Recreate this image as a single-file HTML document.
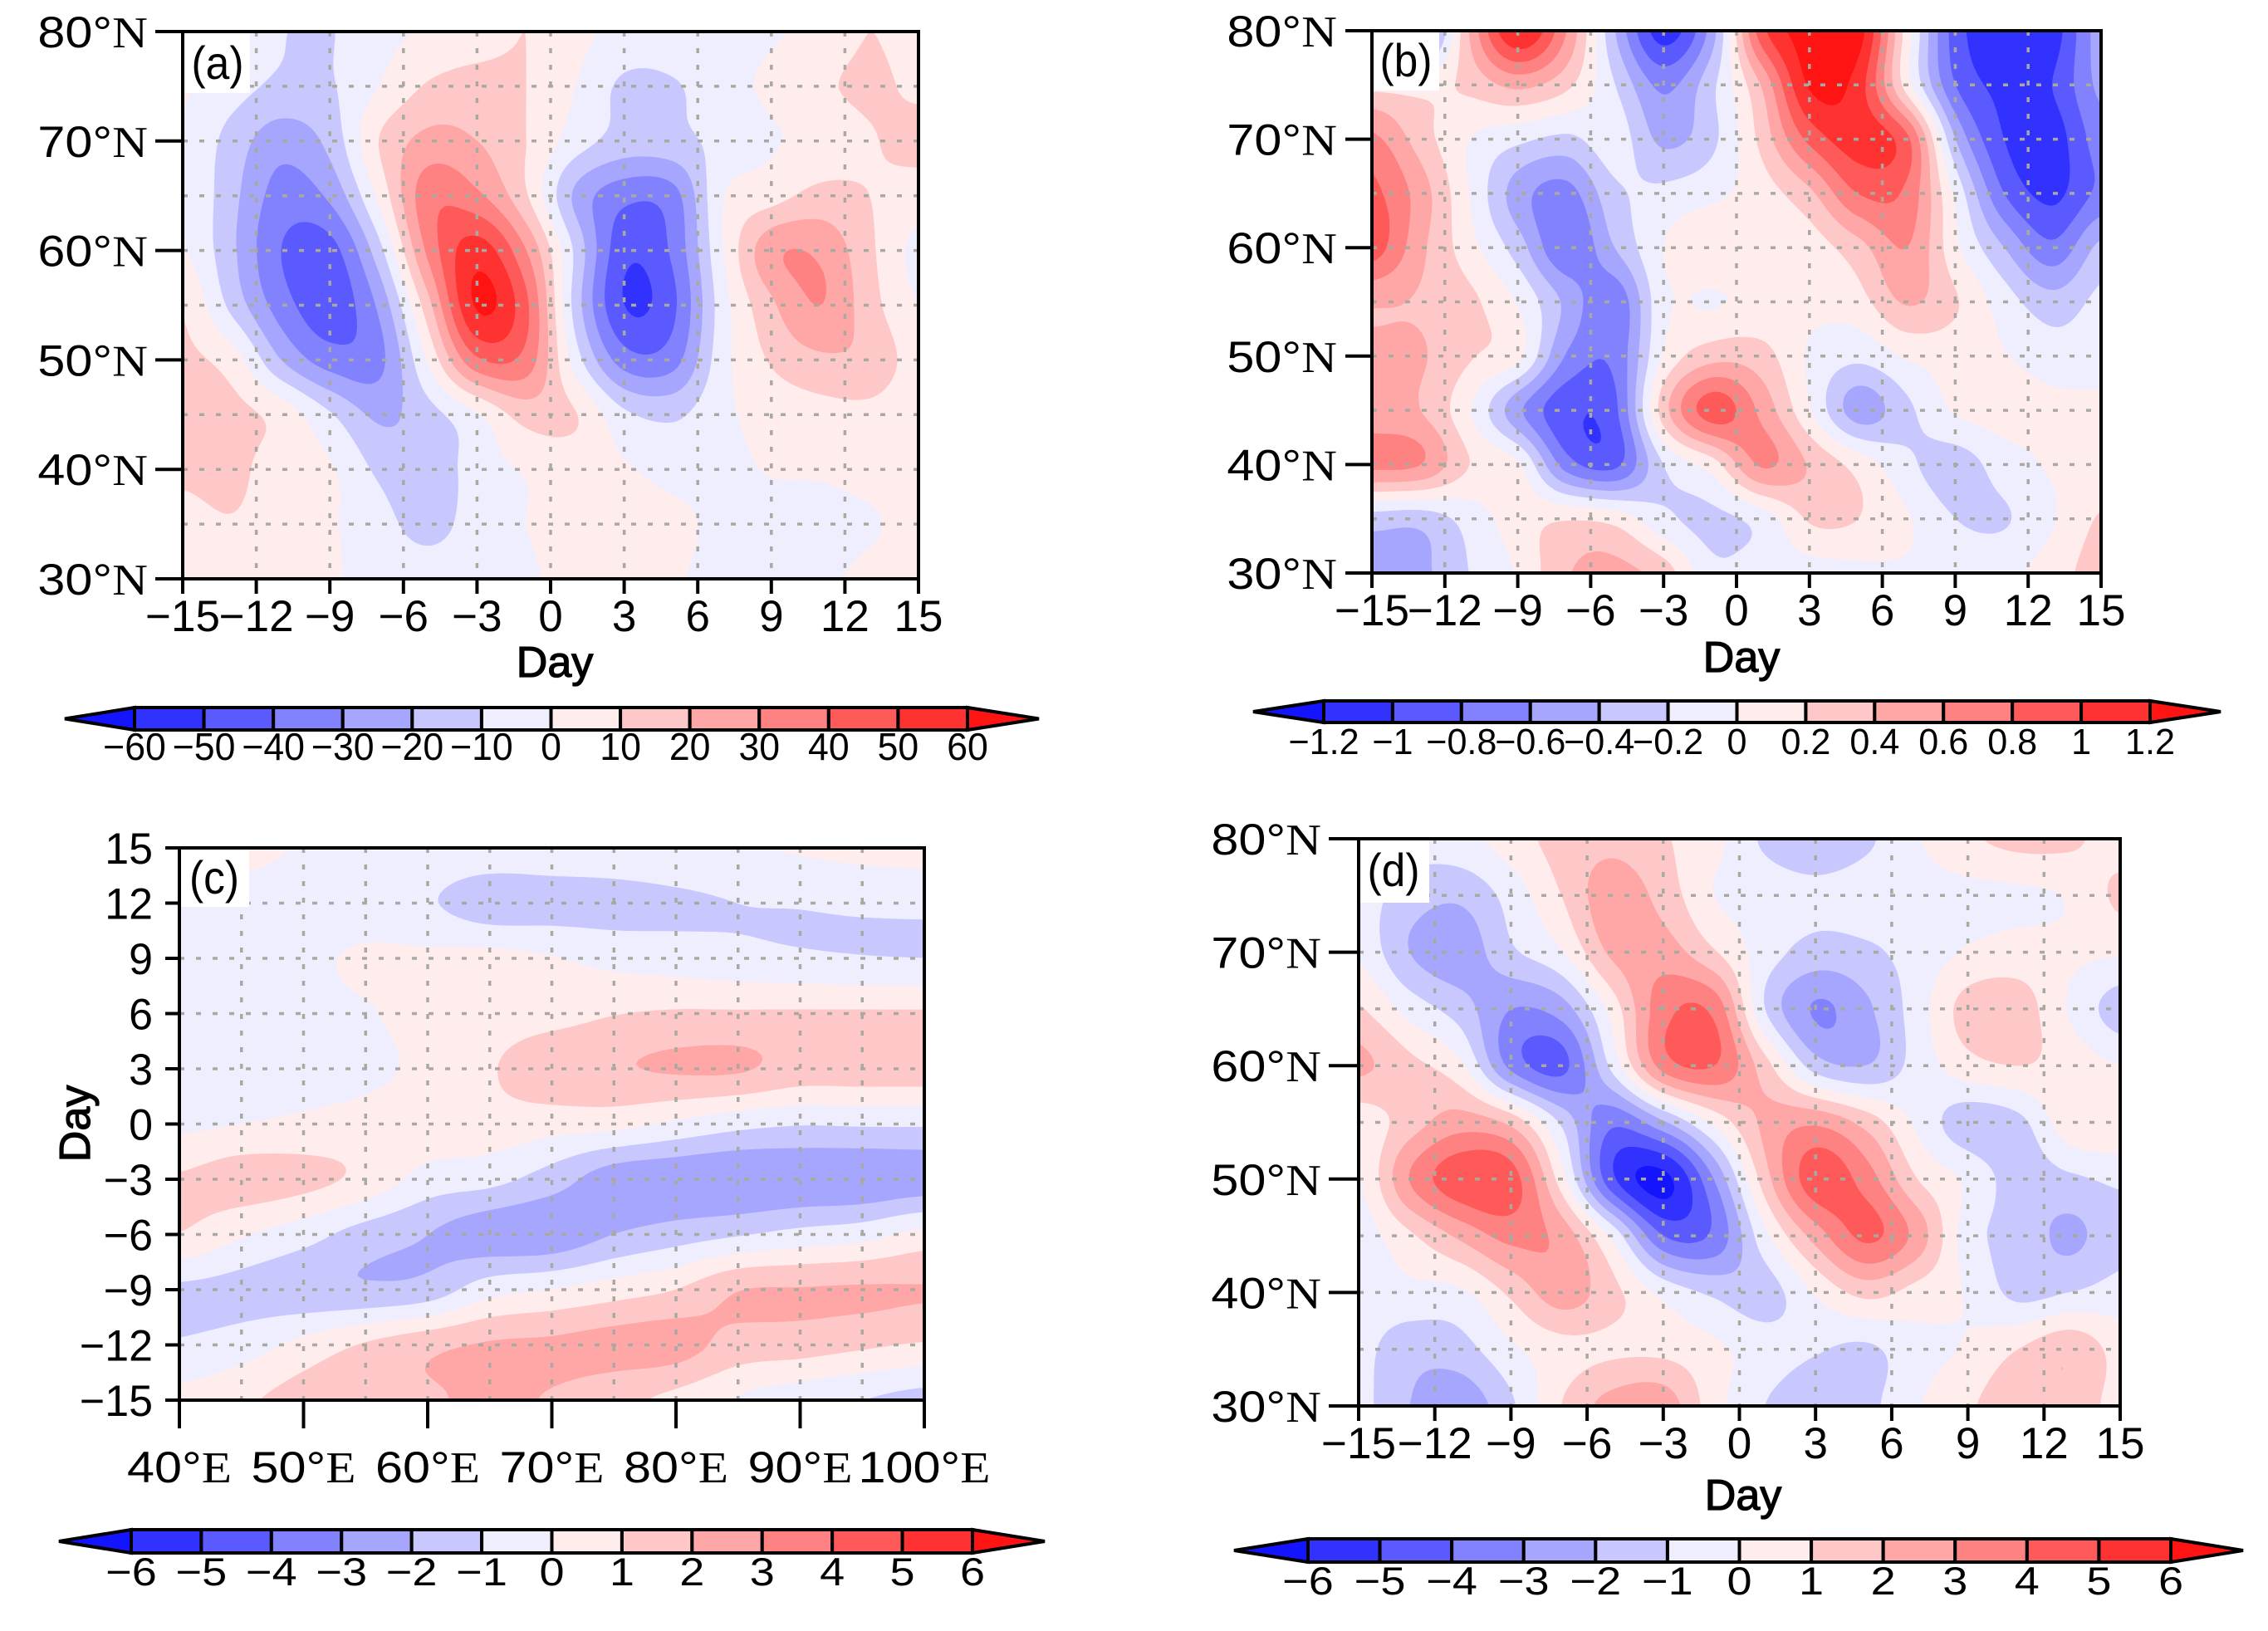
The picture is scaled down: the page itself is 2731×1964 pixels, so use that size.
<!DOCTYPE html>
<html lang="en">
<head>
<meta charset="utf-8">
<title>Composite contour panels</title>
<style>
html,body{margin:0;padding:0;background:#fff;}
svg{display:block;}
text{font-family:"Liberation Sans",sans-serif;fill:#000;}
.ser{font-family:"Liberation Serif",serif;}
</style>
</head>
<body>
<svg xmlns="http://www.w3.org/2000/svg" width="2731" height="1964" viewBox="0 0 2731 1964">
  <rect width="2731" height="1964" fill="#fff"/>

  <g>
    <g id="fills-a"></g>
    <g id="grid-a"></g>
    <rect x="220" y="38" width="81" height="74" fill="#fff"/>
    <text transform="translate(262,95) scale(0.92,1)" text-anchor="middle" font-size="56">(a)</text>
    <g id="axes-a"></g>
    <text transform="translate(668,815) scale(1.0,1)" text-anchor="middle" font-size="52" stroke="#000" stroke-width="1.3">Day</text>
    <g id="bar-a"></g>
  </g>

  <g>
    <g id="fills-b"></g>
    <g id="grid-b"></g>
    <rect x="1652" y="37" width="81" height="72" fill="#fff"/>
    <text transform="translate(1693,92) scale(0.92,1)" text-anchor="middle" font-size="56">(b)</text>
    <g id="axes-b"></g>
    <text transform="translate(2097,809) scale(1.0,1)" text-anchor="middle" font-size="52" stroke="#000" stroke-width="1.3">Day</text>
    <g id="bar-b"></g>
  </g>

  <g>
    <g id="fills-c"></g>
    <g id="grid-c"></g>
    <rect x="216" y="1021" width="84" height="71" fill="#fff"/>
    <text transform="translate(258,1076) scale(0.92,1)" text-anchor="middle" font-size="56">(c)</text>
    <g id="axes-c"></g>
    <text transform="translate(108,1353) rotate(-90) scale(1.0,1)" text-anchor="middle" font-size="52" stroke="#000" stroke-width="1.3">Day</text>
    <g id="bar-c"></g>
  </g>

  <g>
    <g id="fills-d"></g>
    <g id="grid-d"></g>
    <rect x="1636" y="1010" width="85" height="77" fill="#fff"/>
    <text transform="translate(1678,1067) scale(0.92,1)" text-anchor="middle" font-size="56">(d)</text>
    <g id="axes-d"></g>
    <text transform="translate(2099,1818) scale(1.0,1)" text-anchor="middle" font-size="52" stroke="#000" stroke-width="1.3">Day</text>
    <g id="bar-d"></g>
  </g>
</svg>

<script>
// ---- Shared coordinates of the data grids ----
const gridDays = [-15,-13,-11,-9,-7,-5,-3,-1,1,3,5,7,9,11,13,15];
const gridLats = [80,75,70,65,60,55,50,45,40,35,30];
const gridDaysC = [15,12,9,6,3,0,-3,-6,-9,-12,-15];
const gridLonsC = [40,45,50,55,60,65,70,75,80,85,90,95,100];

// ---- Tick values ----
const dayTicks = [-15,-12,-9,-6,-3,0,3,6,9,12,15];
const latTicks = [80,70,60,50,40,30];
const lonTicks = [40,50,60,70,80,90,100];
const latGrid = [75,70,65,60,55,50,45,40,35];
const lonGrid = [45,50,55,60,65,70,75,80,85,90,95];

// ---- Contour levels and colorbar labels ----
const levelsA = [-60,-50,-40,-30,-20,-10,0,10,20,30,40,50,60];
const levelsB = [-1.2,-1,-0.8,-0.6,-0.4,-0.2,0,0.2,0.4,0.6,0.8,1,1.2];
const levelsCD = [-6,-5,-4,-3,-2,-1,0,1,2,3,4,5,6];

// ---- Panel (a): rows are latitudes (80N to 30N), columns are days ----
const valuesA = [
 [2,-3,-9.5,-10.5,-3,1,5,10,3,-3,-4,-3,-1,3,10,5],
 [1,-6,-12,-11,0,11,14,10,0,-12,-11,-4,2,8,12,8],
 [-1,-14,-26,-17,10,23,20,10,-5,-14,-13,-7,-1,3,9,13],
 [0,-17,-34,-28,2,36,32,11,-22,-37,-34,-1,6,13,10,5],
 [1,-18,-40,-44,-14,32,55,30,-12,-47,-38,-1,27,28,12,-3],
 [9,-13,-35,-46,-28,16,61,42,-14,-50,-42,-5,18,30,14,0],
 [12,5,-20,-35,-33,1,38,36,-5,-35,-34,-4,11,18,17,5],
 [13,13,6,-9,-22,-14,-1,14,10.5,-8,-12,-2,3,6,7,3],
 [12,13,4,1,-12,-17,-5,1,4,1,-3,-2,0.5,1,3,3],
 [6,9,4,1,-6,-14,-5,0,3,3,2,-2,-3,-3,-1,3],
 [3,3,3,1,-3,-4,-3,-1,2,2,1,-3,-3,-2,2,3]
];

// ---- Panel (b) ----
const valuesB = [
 [-1,-0.8,0.4,1.2,0.6,-0.4,-1.1,-0.5,0.9,1.3,1.3,0.1,-0.9,-1.1,-1.1,-0.5],
 [0.1,0.1,0.25,0.45,0.25,-0.2,-0.65,-0.25,0.4,1.22,1.1,0.1,-0.8,-1.05,-1,-0.55],
 [0.65,0.3,0,-0.15,-0.25,-0.1,-0.45,-0.25,0.25,0.85,1.1,0.85,-0.4,-1,-1.1,-0.7],
 [0.85,0.5,0,-0.5,-0.68,-0.25,-0.15,-0.05,0.1,0.35,0.8,0.75,-0.05,-0.8,-1.05,-0.75],
 [0.9,0.45,0.08,-0.3,-0.78,-0.4,0,0.18,0.1,0.1,0.32,0.6,0.05,-0.4,-0.75,-0.35],
 [0.42,0.38,0.25,-0.02,-0.45,-0.75,-0.05,-0.02,0.05,0.05,0.12,0.42,0.22,-0.1,-0.32,-0.15],
 [0.45,0.42,0.22,0.05,-0.62,-0.75,0.02,0.32,0.28,-0.02,-0.15,0.02,0.08,0.01,-0.1,-0.1],
 [0.48,0.4,0.02,-0.55,-0.95,-0.85,0.3,0.9,0.55,0.02,-0.5,-0.25,0.02,0.08,0.05,0.05],
 [0.65,0.6,0.2,0.02,-0.7,-0.85,-0.2,0.1,0.62,0.38,0.12,-0.15,-0.3,-0.1,0.02,0.05],
 [-0.3,-0.32,-0.12,0.1,0.18,0.12,-0.15,-0.25,-0.12,0.22,0.2,0.02,-0.2,-0.22,-0.02,0.22],
 [-0.5,-0.45,-0.2,0.02,0.38,0.46,0.3,-0.15,-0.1,-0.08,-0.05,-0.02,-0.05,-0.05,0.1,0.3]
];

// ---- Panel (c): rows are days (15 to -15), columns are longitudes ----
const valuesC = [
 [-0.5,0.3,-0.1,-0.1,-0.3,-0.3,-0.3,-0.3,-0.2,-0.1,0.1,0.3,0.4],
 [-0.5,-0.5,-0.6,-0.7,-0.9,-1.6,-1.5,-1.4,-1.2,-1,-0.95,-0.85,-0.8],
 [-0.6,-0.6,-0.3,0.2,0.2,0.3,0.05,-0.3,-0.5,-0.7,-0.85,-0.95,-1],
 [-0.6,-0.7,-0.4,-0.1,0.4,0.5,0.6,0.95,1.1,1.1,1.1,1.1,1.1],
 [-0.5,-0.6,-0.5,-0.3,0.3,0.9,1.7,1.9,2.1,2.1,1.6,1.6,1.6],
 [-0.2,0,0.2,0.4,0.6,0.6,0.4,0.3,-0.2,-0.7,-0.95,-0.9,-0.9],
 [1.1,1.5,1.3,0.7,-0.4,-0.7,-1.5,-2.6,-2.8,-2.9,-2.8,-2.8,-2.6],
 [0.95,0.1,-0.6,-1.45,-2,-2.6,-2.7,-2,-1.5,-1.1,-0.7,-0.4,0.3],
 [-1.2,-1.4,-1.7,-1.85,-1.6,-0.4,0,0.5,1,1.95,2.05,2.1,2.05],
 [-0.9,-0.5,0.3,1.1,1.7,2.1,2.2,2.4,2.4,1.6,1.45,1.15,0.9],
 [0.3,0.8,1.5,1.95,1.9,2.2,1.9,1.3,0.7,-0.1,-0.6,-1,-1.4]
];

// ---- Panel (d) ----
const valuesD = [
 [0,-0.5,-0.3,0.5,1.4,1.7,1.1,0.3,-1.2,-1.8,-1.2,-0.1,0.8,1.3,1.2,0.5],
 [-0.5,-1.5,-1.8,-0.6,1,2.6,1.6,0,-0.4,-0.7,-0.5,-0.4,-0.3,-0.2,0.1,1.2],
 [-0.2,-2,-2.6,-1.2,-0.1,2.2,2.5,1.1,-0.5,-1.4,-1.2,-0.6,0.1,0.4,0.2,0.1],
 [1.1,-0.4,-1.5,-3,-2.5,0.4,3.6,3.7,-1,-3.1,-2.2,-0.5,1.4,1.5,-0.1,-1.5],
 [2.2,1.3,0.2,-3.3,-4.3,-0.7,3.4,4,1.4,-1.5,-2,-0.6,0.6,1,0.6,0],
 [0.3,1.5,2.5,1.7,-1.2,-3.8,-2.2,0.2,2.2,2.8,1.6,-0.2,-1.6,-1.3,0.6,0.9],
 [-0.1,3,4.7,4.5,0.4,-4.8,-6.3,-3,1.5,4.6,3.5,1,-0.2,-1.5,-1.2,-0.8],
 [-0.5,0.8,2.2,3.3,2.6,-0.3,-4,-3.8,-0.3,2.4,4.2,2.6,-0.5,-1.4,-2.2,-1.4],
 [-0.5,-0.3,-0.2,1.2,2.5,1.3,-0.3,-1.2,-1.5,0.1,1.3,0.6,-0.1,-1.3,-1,-0.6],
 [-0.7,-1.6,-1.4,-0.2,0.6,0.8,0.7,0.2,-0.5,-0.9,-1.2,-0.3,0.1,1,1.8,0.6],
 [-0.7,-2,-2.7,-1.2,1,2.4,2.6,0.4,-1,-1.7,-1.3,-0.1,0.8,1.9,1.7,0.6]
];

// ---- Colour ramp (style, separate from the data) ----
const ramp = ['#1414ff','#3232ff','#5a5aff','#8282ff','#a6a6ff','#c8c8ff','#eeeeff',
              '#ffecec','#ffc8c8','#ffa6a6','#ff8282','#ff5a5a','#ff3232','#ff1414'];

const NS = 'http://www.w3.org/2000/svg';

function mk(tag, parent, attrs){
  const el = document.createElementNS(NS, tag);
  for (const k in attrs) el.setAttribute(k, attrs[k]);
  parent.appendChild(el);
  return el;
}

function catmull(p0,p1,p2,p3,t){
  return 0.5*((2*p1)+(-p0+p2)*t+(2*p0-5*p1+4*p2-p3)*t*t+(-p0+3*p1-3*p2+p3)*t*t*t);
}

function sampleGrid(g, r, c){
  const nr = g.length, nc = g[0].length;
  const ri = Math.min(Math.floor(r), nr-2), ci = Math.min(Math.floor(c), nc-2);
  const tr = r-ri, tc = c-ci;
  const rowv = [];
  for (let k=-1;k<=2;k++){
    const row = g[Math.max(0,Math.min(nr-1,ri+k))];
    const a = row[Math.max(0,ci-1)], b = row[ci], d = row[ci+1], e = row[Math.min(nc-1,ci+2)];
    rowv.push(catmull(a,b,d,e,tc));
  }
  return catmull(rowv[0],rowv[1],rowv[2],rowv[3],tr);
}

// inverse lookup: fractional index of a data coordinate in a monotonic list
function fracIndex(list, v){
  const sign = list[1] > list[0] ? 1 : -1;
  for (let i=0;i<list.length-1;i++){
    if (sign*v <= sign*list[i+1]) return i + (v-list[i])/(list[i+1]-list[i]);
  }
  return list.length-1;
}

function drawFills(p){
  const host = document.getElementById('fills-'+p.id);
  const step = 5;
  const nx = Math.round((p.R-p.L)/step), ny = Math.round((p.B-p.T)/step);
  const xs = [], ys = [], f = [];
  for (let i=0;i<=nx;i++) xs.push(p.xDom[0]+(p.xDom[1]-p.xDom[0])*i/nx);
  for (let j=0;j<=ny;j++) ys.push(p.yDom[0]+(p.yDom[1]-p.yDom[0])*j/ny);
  for (let j=0;j<=ny;j++){
    const r = fracIndex(p.rows, ys[j]);
    const line = [];
    for (let i=0;i<=nx;i++) line.push(sampleGrid(p.values, r, fracIndex(p.cols, xs[i])));
    f.push(line);
  }
  const base = mk('rect', host, {x:p.L,y:p.T,width:p.R-p.L,height:p.B-p.T,fill:ramp[0]});
  
  

  p.levels.forEach(function(level, idx){
    const parts = [];
    for (let j=0;j<ny;j++){
      const y0 = p.y(ys[j]), y1 = p.y(ys[j+1]);
      let run = -1;
      for (let i=0;i<nx;i++){
        const a=f[j][i], b=f[j][i+1], c=f[j+1][i+1], d=f[j+1][i];
        const full = a>=level && b>=level && c>=level && d>=level;
        if (full){ if (run<0) run=i; continue; }
        if (run>=0){
          parts.push('M'+p.x(xs[run]).toFixed(1)+' '+y0.toFixed(1)+'H'+p.x(xs[i]).toFixed(1)+'V'+y1.toFixed(1)+'H'+p.x(xs[run]).toFixed(1)+'Z');
          run=-1;
        }
        if (a<level && b<level && c<level && d<level) continue;
        const x0=p.x(xs[i]), x1=p.x(xs[i+1]);
        const v=[[x0,y0,a],[x1,y0,b],[x1,y1,c],[x0,y1,d]];
        const pts=[];
        for (let k=0;k<4;k++){
          const s=v[k], e=v[(k+1)%4];
          if (s[2]>=level) pts.push([s[0],s[1]]);
          if ((s[2]>=level)!==(e[2]>=level)){
            const t=(level-s[2])/(e[2]-s[2]);
            pts.push([s[0]+(e[0]-s[0])*t, s[1]+(e[1]-s[1])*t]);
          }
        }
        if (pts.length>2) parts.push('M'+pts.map(q=>q[0].toFixed(1)+' '+q[1].toFixed(1)).join('L')+'Z');
      }
      if (run>=0){
        parts.push('M'+p.x(xs[run]).toFixed(1)+' '+y0.toFixed(1)+'H'+p.x(xs[nx]).toFixed(1)+'V'+y1.toFixed(1)+'H'+p.x(xs[run]).toFixed(1)+'Z');
      }
    }
    const path = mk('path', host, {d:parts.join(''),fill:ramp[idx+1],stroke:ramp[idx+1],'stroke-width':0.7});
    
    
  });
}

function drawGrid(p){
  const host = document.getElementById('grid-'+p.id);
  const style = {stroke:'#a9a9a2','stroke-width':3.5,'stroke-dasharray':'6 14',fill:'none'};
  p.xGrid.forEach(function(v){
    const l = mk('line', host, Object.assign({x1:p.x(v),x2:p.x(v),y1:p.T,y2:p.B}, style));
    
    
  });
  p.yGrid.forEach(function(v){
    const l = mk('line', host, Object.assign({x1:p.L,x2:p.R,y1:p.y(v),y2:p.y(v)}, style));
    
    
  });
}

function tickText(v){ return String(v).replace('-', '\u2212'); }

function geoLabel(host, x, y, v, letter, anchor, sx, size){
  const t = mk('text', host, {transform:'translate('+x+','+y+') scale('+sx+',1)','text-anchor':anchor,'font-size':size});
  t.appendChild(document.createTextNode(v+'\u00b0'));
  const s = mk('tspan', t, {class:'ser'});
  s.textContent = letter;
  return t;
}

function drawAxes(p){
  const host = document.getElementById('axes-'+p.id);
  const frame = mk('rect', host, {x:p.L,y:p.T,width:p.R-p.L,height:p.B-p.T,fill:'none',stroke:'#000','stroke-width':4});
  
  

  p.xTicks.forEach(function(v){
    const tick = mk('line', host, {x1:p.x(v),x2:p.x(v),y1:p.B,y2:p.B+p.xLen,stroke:'#000','stroke-width':4});
    
    
    let t;
    if (p.xLetter){
      t = geoLabel(host, p.x(v), p.xLabelY, v, p.xLetter, 'middle', 1.12, 53);
    } else {
      t = mk('text', host, {transform:'translate('+p.x(v)+','+p.xLabelY+') scale(1,1)','text-anchor':'middle','font-size':53});
      t.textContent = tickText(v);
    }
    
    
  });

  p.yTicks.forEach(function(v){
    const yy = p.y(v);
    const tick = mk('line', host, {x1:p.L-p.yLen,x2:p.L,y1:yy,y2:yy,stroke:'#000','stroke-width':4});
    
    
    let t;
    if (p.yLetter){
      t = geoLabel(host, p.yLabelX, yy+19, v, p.yLetter, 'end', 1.12, 53);
    } else {
      t = mk('text', host, {transform:'translate('+p.yLabelX+','+(yy+19)+') scale(0.98,1)','text-anchor':'end','font-size':53});
      t.textContent = tickText(v);
    }
    
    
  });
}

function drawBar(p){
  const b = p.bar;
  const host = document.getElementById('bar-'+p.id);
  const n = p.levels.length-1;
  const cw = (b.R-b.L)/n;
  const mid = (b.T+b.B)/2;
  const left = mk('polygon', host, {points:b.tipL+','+mid+' '+b.L+','+b.T+' '+b.L+','+b.B,fill:ramp[0],stroke:'#000','stroke-width':4});
  
  
  const right = mk('polygon', host, {points:b.tipR+','+mid+' '+b.R+','+b.T+' '+b.R+','+b.B,fill:ramp[13],stroke:'#000','stroke-width':4});
  
  
  for (let i=0;i<n;i++){
    const cell = mk('rect', host, {x:b.L+i*cw,y:b.T,width:cw,height:b.B-b.T,fill:ramp[i+1],stroke:'#000','stroke-width':4});
    
    
  }
  p.levels.forEach(function(v,i){
    const t = mk('text', host, {transform:'translate('+(b.L+i*cw)+','+b.labelY+') scale('+b.sx+',1)','text-anchor':'middle','font-size':b.size});
    t.textContent = tickText(v);
    
    
  });
}

function scale(d0,d1,r0,r1){ return function(v){ return r0+(v-d0)/(d1-d0)*(r1-r0); }; }

function dayLatPanel(id,L,R,T,B,values,levels,yLen,yLabelX,bar){
  return {id:id,L:L,R:R,T:T,B:B,values:values,levels:levels,
    rows:gridLats,cols:gridDays,xDom:[-15,15],yDom:[80,30],
    x:scale(-15,15,L,R),y:scale(80,30,T,B),
    xTicks:dayTicks,yTicks:latTicks,xGrid:dayTicks.slice(1,-1),yGrid:latGrid,
    xLen:18,yLen:yLen,xLabelY:B+63,yLabelX:yLabelX,yLetter:'N',bar:bar};
}

const panels = [
  dayLatPanel('a',220,1106,38,697,valuesA,levelsA,33,178,{L:162,R:1165,T:852,B:879,tipL:78,tipR:1251,labelY:915,size:46,sx:0.97}),
  dayLatPanel('b',1652,2530,37,690,valuesB,levelsB,32,1610,{L:1594,R:2589,T:844,B:870,tipL:1509,tipR:2674,labelY:908,size:44,sx:0.98}),
  {id:'c',L:216,R:1113,T:1021,B:1686,values:valuesC,levels:levelsCD,
    rows:gridDaysC,cols:gridLonsC,xDom:[40,100],yDom:[15,-15],
    x:scale(40,100,216,1113),y:scale(15,-15,1021,1686),
    xTicks:lonTicks,yTicks:dayTicks,xGrid:lonGrid,yGrid:dayTicks.slice(1,-1),
    xLen:34,yLen:17,xLabelY:1785,yLabelX:184,xLetter:'E',
    bar:{L:158,R:1171,T:1842,B:1870,tipL:71,tipR:1258,labelY:1909,size:47,sx:1.15}},
  dayLatPanel('d',1636,2553,1010,1693,valuesD,levelsCD,36,1591,{L:1575,R:2614,T:1853,B:1881,tipL:1486,tipR:2701,labelY:1920,size:47,sx:1.15})
];

panels.forEach(function(p){
  drawFills(p);
  drawGrid(p);
  drawAxes(p);
  drawBar(p);
});
</script>
</body>
</html>
